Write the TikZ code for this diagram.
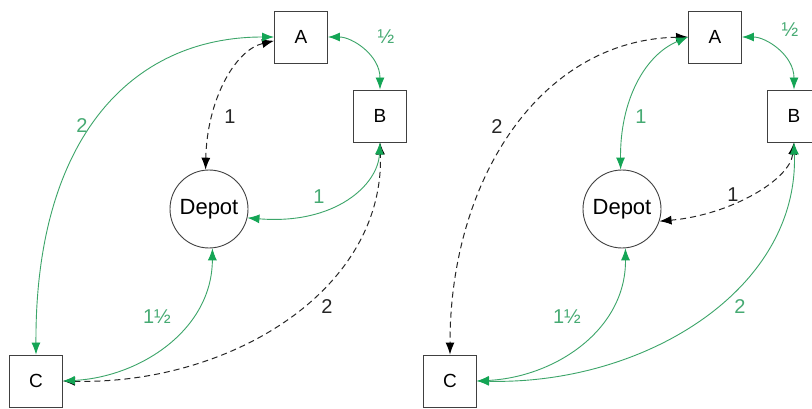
\documentclass[tikz,border=0pt]{standalone}
\usepackage{fontspec}
\setmainfont{Liberation Sans}
\usetikzlibrary{arrows.meta}
\definecolor{lgreen}{RGB}{60,165,105}
\definecolor{agreen}{RGB}{20,165,85}
\definecolor{tgreen}{RGB}{70,170,115}
\tikzset{
  box/.style={draw=black!75, line width=0.9pt, minimum width=53pt, minimum height=52pt, inner sep=0pt, font=\fontsize{19}{21}\selectfont},
  depot/.style={circle, draw=black!75, line width=0.9pt, minimum size=78pt, inner sep=0pt, font=\fontsize{22}{24}\selectfont},
  gline/.style={draw=lgreen, line width=0.9pt, {Latex[length=12pt,width=9pt,color=agreen]}-{Latex[length=12pt,width=9pt,color=agreen]}},
  dline/.style={draw=black!85, line width=1pt, dash pattern=on 6pt off 4pt, {Latex[length=12pt,width=9pt,color=black]}-{Latex[length=12pt,width=9pt,color=black]}},
  glab/.style={text=tgreen, font=\fontsize{20}{22}\selectfont, inner sep=0pt},
  blab/.style={text=black!85, font=\fontsize{20}{22}\selectfont, inner sep=0pt}
}
\begin{document}
\begin{tikzpicture}[x=1pt,y=-1pt]
\useasboundingbox (0,0) rectangle (812,409);
\fill[white] (0,0) rectangle (812,409);
% left panel
\node[box] (A) at (301,37) {A};
\node[box] (B) at (380,116) {B};
\node[depot] (D) at (209,209) {Depot};
\node[box] (C) at (36,381) {C};
\draw[dline] (A.188) .. controls (235,50) and (207,100) .. (D.95);
\draw[dline] (C.east) .. controls (230,385) and (385,290) .. (B.south);
\draw[gline] (A.west) .. controls (130,37) and (35,140) .. (C.north);
\draw[gline] (A.east) .. controls (352,37) and (380,55) .. (B.north);
\draw[gline] (B.south) .. controls (378,185) and (335,225) .. (D.-13);
\draw[gline] (C.east) .. controls (140,377) and (212,330) .. (D.-85);
\node[glab] (lA) at (82,126) {2};
\node[blab] (lB) at (230,117) {1};
\node[glab] (lC) at (386,37) {½};
\node[glab] (lD) at (319,197) {1};
\node[glab] (lE) at (157,317) {1½};
\node[blab] (lF) at (327,307) {2};
% right panel
\node[box] (A2) at (715,37) {A};
\node[box] (B2) at (794,116) {B};
\node[depot] (D2) at (622,209) {Depot};
\node[box] (C2) at (450,381) {C};
\draw[dline] (A2.west) .. controls (540,40) and (450,180) .. (C2.north);
\draw[dline] (B2.south) .. controls (790,180) and (730,215) .. (D2.-18);
\draw[gline] (A2.west) .. controls (645,55) and (620,100) .. (D2.92);
\draw[gline] (A2.east) .. controls (766,37) and (794,55) .. (B2.north);
\draw[gline] (C2.east) .. controls (555,377) and (626,330) .. (D2.-85);
\draw[gline] (C2.east) .. controls (644,385) and (799,290) .. (B2.south);
\node[blab] (rA) at (497,127) {2};
\node[glab] (rB) at (641,117) {1};
\node[glab] (rC) at (790,30) {½};
\node[blab] (rD) at (733,195) {1};
\node[glab] (rE) at (567,317) {1½};
\node[glab] (rF) at (740,307) {2};
\end{tikzpicture}
\end{document}
